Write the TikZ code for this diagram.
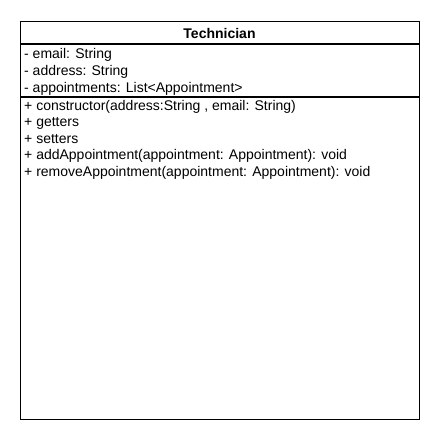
\documentclass[tikz,border=0pt]{standalone}
\usepackage{fontspec}
\setmainfont{Liberation Sans}
\begin{document}
\begin{tikzpicture}[x=1pt,y=-1pt,
  txt/.style={anchor=base west,inner sep=0pt,font=\fontsize{14}{16}\selectfont},
  ttl/.style={anchor=base,inner sep=0pt,font=\fontsize{14}{16}\selectfont\bfseries},
  frame/.style={draw=black,line width=1.1pt}]
\useasboundingbox (0,0) rectangle (440,440);
\fill[white] (0,0) rectangle (440,440);
\node[frame,minimum width=399pt,minimum height=398pt,anchor=north west,inner sep=0pt] (box) at (20,21) {};
\coordinate (s1l) at (20,44); \coordinate (s1r) at (419,44);
\coordinate (s2l) at (20,97); \coordinate (s2r) at (419,97);
\draw[line width=1.1pt] (s1l) -- (s1r);
\draw[line width=1.1pt] (s2l) -- (s2r);
\node[ttl] (title) at (219.5,38) {Technician};
\node[txt] (a1) at (24,58) {- email: String};
\node[txt] (a2) at (24,75) {- address: String};
\node[txt] (a3) at (24,92) {- appointments: List<Appointment>};
\node[txt] (m1) at (24,110) {+ constructor(address:String , email: String)};
\node[txt] (m2) at (24,126.5) {+ getters};
\node[txt] (m3) at (24,143) {+ setters};
\node[txt] (m4) at (24,159.5) {+ addAppointment(appointment: Appointment): void};
\node[txt] (m5) at (24,176) {+ removeAppointment(appointment: Appointment): void};
\end{tikzpicture}
\end{document}
